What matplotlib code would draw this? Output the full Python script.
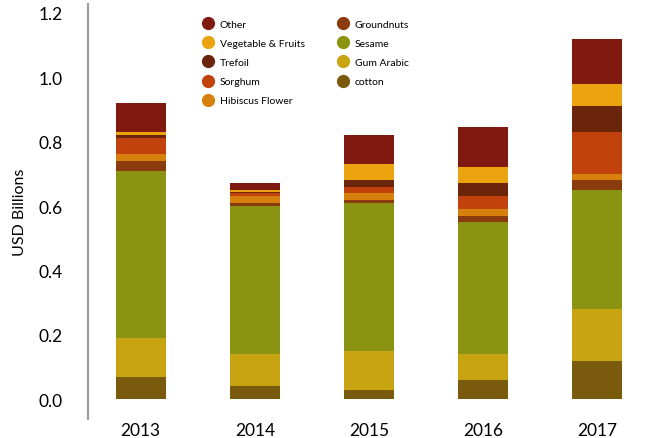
import numpy as np
import matplotlib.pyplot as plt
from matplotlib.lines import Line2D

years = ["2013", "2014", "2015", "2016", "2017"]

# stacked bottom -> top
cotton = [0.07, 0.04, 0.03, 0.06, 0.12]
gum_arabic = [0.12, 0.10, 0.12, 0.08, 0.16]
sesame = [0.52, 0.46, 0.46, 0.41, 0.37]
groundnuts = [0.03, 0.01, 0.01, 0.02, 0.03]
hibiscus = [0.02, 0.02, 0.02, 0.02, 0.02]
sorghum = [0.05, 0.01, 0.02, 0.04, 0.13]
trefoil = [0.01, 0.005, 0.02, 0.04, 0.08]
veg_fruits = [0.01, 0.005, 0.05, 0.05, 0.07]
other = [0.09, 0.02, 0.09, 0.125, 0.14]

series = [
    ("cotton", cotton, "#7a5a0c"),
    ("Gum Arabic", gum_arabic, "#c9a412"),
    ("Sesame", sesame, "#8a9412"),
    ("Groundnuts", groundnuts, "#8a3c0e"),
    ("Hibiscus Flower", hibiscus, "#d8800e"),
    ("Sorghum", sorghum, "#c2420e"),
    ("Trefoil", trefoil, "#6a250a"),
    ("Vegetable & Fruits", veg_fruits, "#eba310"),
    ("Other", other, "#801a10"),
]

plt.rcParams['font.family'] = ['Lato', 'DejaVu Sans']

fig = plt.figure(figsize=(6.45, 4.39), dpi=100)
ax = fig.add_axes([0.136, 0.043, 0.864, 0.946])

x = np.arange(len(years))
bottom = np.zeros(len(years))
colors = {}
for name, vals, col in series:
    ax.bar(x, vals, 0.44, bottom=bottom, color=col, label=name)
    colors[name] = col
    bottom += np.array(vals)

ax.set_xlim(-0.465, 4.42)
ax.set_ylim(-0.062, 1.228)
ax.set_yticks([0.0, 0.2, 0.4, 0.6, 0.8, 1.0, 1.2])
ax.set_yticklabels(["0.0", "0.2", "0.4", "0.6", "0.8", "1.0", "1.2"])
ax.set_xticks(x)
ax.set_xticklabels(years)
ax.tick_params(axis='y', length=0, pad=18, labelsize=12.5)
ax.tick_params(axis='x', length=0, pad=2, labelsize=12.5)
ax.set_ylabel("USD Billions", fontsize=11.5, labelpad=8)

for s in ["top", "right", "bottom"]:
    ax.spines[s].set_visible(False)
ax.spines["left"].set_color("#9a9ea4")
ax.spines["left"].set_linewidth(1.6)

order = ["Other", "Vegetable & Fruits", "Trefoil", "Sorghum", "Hibiscus Flower",
         "Groundnuts", "Sesame", "Gum Arabic", "cotton"]
leg_handles = [Line2D([], [], marker='o', linestyle='', markersize=8.5,
                      color=colors[n]) for n in order]
ax.legend(leg_handles, order, ncol=2, loc='upper left',
          bbox_to_anchor=(0.19, 0.985), frameon=False, fontsize=7.5,
          handletextpad=0.6, columnspacing=3.2, labelspacing=0.95,
          handlelength=1.0)

fig.savefig("out.png", dpi=100)
